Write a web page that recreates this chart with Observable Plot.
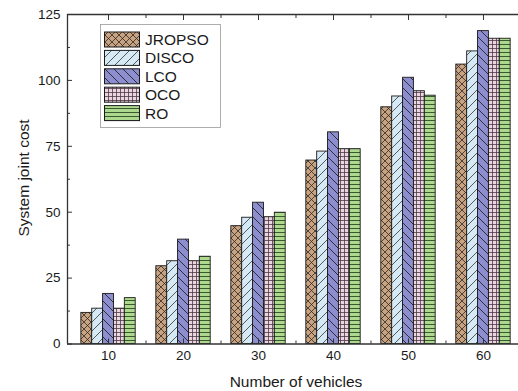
<!DOCTYPE html>
<html><head><meta charset="utf-8">
<script src="https://cdn.jsdelivr.net/npm/d3@7"></script>
<script src="https://cdn.jsdelivr.net/npm/@observablehq/plot@0.6"></script>
<style>
html,body{margin:0;padding:0;background:#fff;overflow:hidden;}
#chart{width:518px;height:391px;position:relative;}
</style></head><body><div id="chart"></div>
<script>
const vehicles = [10, 20, 30, 40, 50, 60];
const methods = ["JROPSO", "DISCO", "LCO", "OCO", "RO"];
const JROPSO = [11.8, 29.5, 44.7, 69.6, 89.8, 106.0];
const DISCO  = [13.4, 31.4, 47.9, 73.0, 93.9, 111.0];
const LCO    = [19.0, 39.6, 53.6, 80.3, 101.0, 118.7];
const OCO    = [13.4, 31.4, 48.1, 73.9, 95.9, 115.8];
const RO     = [17.4, 33.1, 49.8, 73.9, 94.2, 115.8];
const yTicks = [0, 25, 50, 75, 100, 125];
const yMinor = [12.5, 37.5, 62.5, 87.5, 112.5];
const xTicks = [10, 20, 30, 40, 50, 60];
const xMinor = [15, 25, 35, 45, 55];
const xTitle = "Number of vehicles";
const yTitle = "System joint cost";

const series = {JROPSO, DISCO, LCO, OCO, RO};
const data = methods.flatMap((m, i) => vehicles.map((v, j) => ({method: m, idx: i, n: v, value: series[m][j]})));
const barW = 1.45;
const xDomain = [4.53, 64.67];
const font = "'Liberation Sans', Arial, sans-serif";

const plot = Plot.plot({
  width: 518,
  height: 391,
  marginLeft: 67,
  marginRight: 0,
  marginTop: 14,
  marginBottom: 47.5,
  style: {fontFamily: font, fontSize: "13.5px", color: "#1a1a1a", background: "#fff"},
  x: {domain: xDomain},
  y: {domain: [0, 125]},
  color: {domain: methods, range: methods.map(m => `url(#pat-${m})`)},
  marks: [
    Plot.rectY(data, {
      x1: d => d.n + (d.idx - 2.5) * barW,
      x2: d => d.n + (d.idx - 1.5) * barW,
      y: "value",
      fill: "method",
      stroke: "#1a1a1a",
      strokeWidth: 0.9
    }),
    Plot.ruleY([0, 125], {stroke: "#333", strokeWidth: 1.3}),
    Plot.ruleX([xDomain[0]], {stroke: "#333", strokeWidth: 1.3}),
    Plot.axisY(yTicks, {anchor: "left", tickSize: -5, tickPadding: 12, label: null, stroke: "#333"}),
    Plot.axisY(yMinor, {anchor: "left", tickSize: -3, tickFormat: () => "", label: null, stroke: "#333"}),
    Plot.axisX(xTicks, {anchor: "bottom", tickSize: -5, tickPadding: 11, label: null, stroke: "#333"}),
    Plot.axisX(xMinor, {anchor: "bottom", tickSize: -3, tickFormat: () => "", label: null, stroke: "#333"}),
    Plot.axisX(xTicks, {anchor: "top", tickSize: -5, tickFormat: () => "", label: null, stroke: "#333"}),
    Plot.axisX(xMinor, {anchor: "top", tickSize: -3, tickFormat: () => "", label: null, stroke: "#333"})
  ]
});

const svg = d3.select(plot);
const defs = svg.insert("defs", ":first-child");
function pat(id, w, h, bg, paths, stroke, sw) {
  const p = defs.append("pattern").attr("id", id).attr("patternUnits", "userSpaceOnUse")
    .attr("width", w).attr("height", h);
  p.append("rect").attr("width", w).attr("height", h).attr("fill", bg);
  p.append("path").attr("d", paths).attr("stroke", stroke).attr("stroke-width", sw).attr("fill", "none");
}
pat("pat-JROPSO", 7, 7, "#c9a27f", "M0,0L7,7M7,0L0,7", "#2a2a2a", 0.8);
pat("pat-DISCO", 9, 9, "#d6eaf5", "M0,9L9,0M-1,1L1,-1M8,10L10,8", "#333", 0.8);
pat("pat-LCO", 9, 9, "#8c8ecf", "M0,0L9,9M-1,8L1,10M8,-1L10,1", "#222", 0.9);
pat("pat-OCO", 4, 4, "#ecd5e1", "M0,0.5H4M0.5,0V4", "#4a3a45", 0.8);
pat("pat-RO", 4, 4, "#acd98d", "M0,0.5H4", "#2f4a25", 0.9);

// axis titles
svg.append("text").attr("x", 296).attr("y", 387).attr("text-anchor", "middle")
  .attr("font-size", 15.5).attr("fill", "#1a1a1a").text(xTitle);
svg.append("text").attr("transform", "translate(23,178) rotate(-90)").attr("text-anchor", "middle")
  .attr("dominant-baseline", "central").attr("font-size", 15.5).attr("fill", "#1a1a1a").text(yTitle);

// legend
const lg = svg.append("g").attr("text-anchor", "start");
lg.append("rect").attr("x", 100.5).attr("y", 24.5).attr("width", 120).attr("height", 103)
  .attr("fill", "#fff").attr("stroke", "#999").attr("stroke-width", 0.8);
methods.forEach((m, i) => {
  const y = 32 + i * 18.4;
  lg.append("rect").attr("x", 104.5).attr("y", y).attr("width", 35).attr("height", 15)
    .attr("fill", `url(#pat-${m})`).attr("stroke", "#1a1a1a").attr("stroke-width", 1);
  lg.append("text").attr("x", 145).attr("y", y + 7.5).attr("dominant-baseline", "central")
    .attr("text-anchor", "start").attr("font-size", 15.5).attr("fill", "#1a1a1a").text(m);
});

document.getElementById("chart").appendChild(plot);
</script>
</body></html>
